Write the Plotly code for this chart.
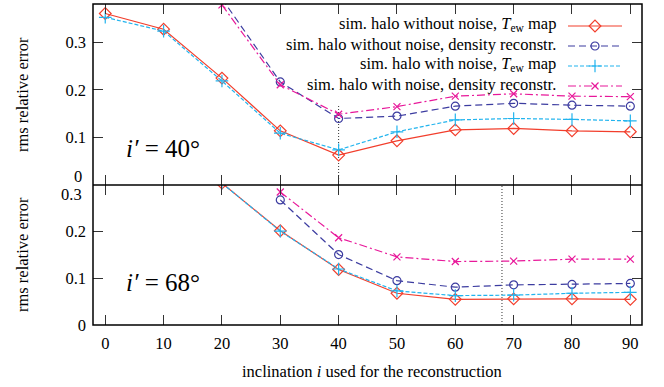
import plotly.graph_objects as go

# ---------------- data ----------------
incl = [0, 10, 20, 30, 40, 50, 60, 70, 80, 90]

# top panel: true inclination i' = 40 deg
top_tew_clean = [0.361, 0.328, 0.225, 0.114, 0.063, 0.093, 0.116, 0.119, 0.114, 0.112]
top_den_clean = [None, None, 0.392, 0.217, 0.140, 0.145, 0.166, 0.172, 0.168, 0.166]
top_tew_noise = [0.353, 0.324, 0.219, 0.109, 0.074, 0.112, 0.137, 0.140, 0.138, 0.135]
top_den_noise = [None, None, 0.379, 0.211, 0.149, 0.165, 0.187, 0.192, 0.187, 0.186]

# bottom panel: true inclination i' = 68 deg
bot_tew_clean = [None, None, 0.304, 0.202, 0.119, 0.068, 0.055, 0.056, 0.056, 0.055]
bot_den_clean = [None, None, None, 0.268, 0.151, 0.095, 0.081, 0.086, 0.087, 0.089]
bot_tew_noise = [None, None, 0.304, 0.201, 0.120, 0.073, 0.063, 0.064, 0.068, 0.070]
bot_den_noise = [None, None, None, 0.285, 0.187, 0.146, 0.136, 0.137, 0.141, 0.141]

true_incl_top = 40
true_incl_bot = 68
marker_line_top = [0, 0.17]
marker_line_bot = [0, 0.3]

series_names = [
    "sim. halo without noise, <i>T</i><sub>ew</sub> map",
    "sim. halo without noise, density reconstr.",
    "sim. halo with noise, <i>T</i><sub>ew</sub> map",
    "sim. halo with noise, density reconstr.",
]
panel_labels = ["<i>i′</i> = 40°", "<i>i′</i> = 68°"]
x_ticks = [0, 10, 20, 30, 40, 50, 60, 70, 80, 90]
y_ticks = [0, 0.1, 0.2, 0.3]

# ---------------- styles ----------------
FONT = "Liberation Serif"
FS = 16.5
colors = ["#f23e2c", "#3c3ca0", "#22b4ee", "#e8189a"]
dashes = ["solid", "7px,4px", "4px,2px", "8px,3px,2px,3px"]
symbols = ["diamond-open", "circle-open", "cross-thin-open", "x-thin-open"]
msizes = [9, 8, 9, 7]

W, H = 664, 387
ML, MR, MT, MB = 93, 22, 4, 62
split_px = 185
plot_h = H - MT - MB
plot_w = W - ML - MR
split = (H - MB - split_px) / plot_h

def py(p):
    return (H - MB - p) / plot_h

def px(p):
    return (p - ML) / plot_w

fig = go.Figure()

top_data = [top_tew_clean, top_den_clean, top_tew_noise, top_den_noise]
bot_data = [bot_tew_clean, bot_den_clean, bot_tew_noise, bot_den_noise]

def add_series(data, xa, ya):
    for k, ys in enumerate(data):
        fig.add_trace(go.Scatter(
            x=incl, y=ys, mode="lines+markers", xaxis=xa, yaxis=ya,
            line=dict(color=colors[k], width=1.2, dash=dashes[k]),
            marker=dict(symbol=symbols[k], size=msizes[k], color=colors[k],
                        line=dict(color=colors[k], width=1.2)),
            showlegend=False, cliponaxis=True, connectgaps=False))

# vertical dotted lines at the true inclination
fig.add_trace(go.Scatter(x=[true_incl_top, true_incl_top], y=marker_line_top,
                         mode="lines", xaxis="x2", yaxis="y2",
                         line=dict(color="#333", width=1, dash="1px,2px"), showlegend=False))
fig.add_trace(go.Scatter(x=[true_incl_bot, true_incl_bot], y=marker_line_bot,
                         mode="lines", xaxis="x", yaxis="y",
                         line=dict(color="#333", width=1, dash="1px,2px"), showlegend=False))

add_series(top_data, "x2", "y2")
add_series(bot_data, "x", "y")

# legend samples (gnuplot style: text left of sample) on overlay axis in pixel units
leg_rows = [26, 46, 66, 86]
for k in range(4):
    fig.add_trace(go.Scatter(
        x=[568, 622], y=[leg_rows[k]] * 2, mode="lines", xaxis="x3", yaxis="y3",
        line=dict(color=colors[k], width=1.2, dash=dashes[k]), showlegend=False))
    fig.add_trace(go.Scatter(
        x=[595], y=[leg_rows[k]], mode="markers", xaxis="x3", yaxis="y3",
        marker=dict(symbol=symbols[k], size=msizes[k], color=colors[k],
                    line=dict(color=colors[k], width=1.2)), showlegend=False))

axis_common = dict(showline=False, mirror="allticks",
                   ticks="inside", ticklen=10, tickcolor="#333", tickwidth=1.2,
                   showgrid=False, zeroline=False,
                   tickfont=dict(family=FONT, size=FS, color="black"))

tf = dict(family=FONT, size=FS, color="black")
annotations = []
for k in range(4):
    annotations.append(dict(x=px(558), y=py(leg_rows[k] - 2), xref="paper", yref="paper",
                            text=series_names[k], showarrow=False,
                            xanchor="right", yanchor="middle", font=tf))
annotations += [
    dict(x=px(124), y=py(148), xref="paper", yref="paper", text=panel_labels[0],
         showarrow=False, xanchor="left", yanchor="middle",
         font=dict(family=FONT, size=25, color="black")),
    dict(x=px(124), y=py(282), xref="paper", yref="paper", text=panel_labels[1],
         showarrow=False, xanchor="left", yanchor="middle",
         font=dict(family=FONT, size=25, color="black")),
    dict(x=px(22), y=py(95), xref="paper", yref="paper",
         text="rms relative error", textangle=-90, showarrow=False,
         xanchor="center", yanchor="middle", font=tf),
    dict(x=px(22), y=py(255), xref="paper", yref="paper",
         text="rms relative error", textangle=-90, showarrow=False,
         xanchor="center", yanchor="middle", font=tf),
    dict(x=px(372), y=py(372), xref="paper", yref="paper",
         text="inclination <i>i</i> used for the reconstruction", showarrow=False,
         xanchor="center", yanchor="middle", font=tf),
    # boundary tick labels, shifted as in the original
    dict(x=px(84), y=py(177), xref="paper", yref="paper", text="0",
         showarrow=False, xanchor="right", yanchor="middle", font=tf),
    dict(x=px(84), y=py(195), xref="paper", yref="paper", text="0.3",
         showarrow=False, xanchor="right", yanchor="middle", font=tf),
]

frame = dict(color="black", width=1.5)
shapes = [
    dict(type="rect", xref="paper", yref="paper", x0=0, x1=1, y0=0, y1=1, line=frame),
    dict(type="line", xref="paper", yref="paper", x0=0, x1=1, y0=split, y1=split, line=frame),
]

fig.update_layout(
    width=W, height=H, margin=dict(l=ML, r=MR, t=MT, b=MB),
    paper_bgcolor="white", plot_bgcolor="white",
    xaxis=dict(domain=[0, 1], range=[-2.1, 92], anchor="y", tickvals=x_ticks,
               ticklabelstandoff=6, **axis_common),
    yaxis=dict(domain=[0, split], range=[0, 0.3], anchor="x", tickvals=y_ticks,
               ticktext=["0", "0.1", "0.2", ""], ticklabelstandoff=6, **axis_common),
    xaxis2=dict(domain=[0, 1], range=[-2.1, 92], anchor="y2", tickvals=x_ticks,
                showticklabels=False, matches="x", **axis_common),
    yaxis2=dict(domain=[split, 1], range=[0, 0.381], anchor="x2", tickvals=y_ticks,
                ticktext=["", "0.1", "0.2", "0.3"], ticklabelstandoff=6, **axis_common),
    xaxis3=dict(range=[ML, W - MR], anchor="y3", overlaying="x2", visible=False),
    yaxis3=dict(range=[split_px, MT], anchor="x3", overlaying="y2", visible=False),
    annotations=annotations, shapes=shapes,
)

fig.write_html("out.html")
